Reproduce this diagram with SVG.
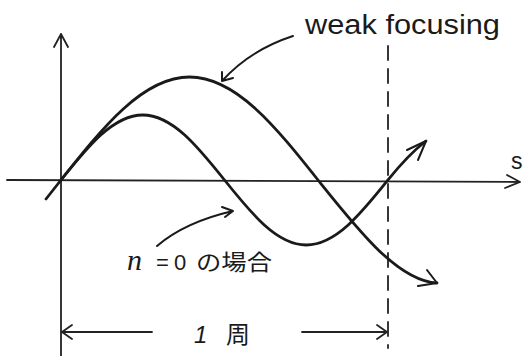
<svg xmlns="http://www.w3.org/2000/svg" width="523" height="356" viewBox="0 0 523 356">
<style>
.ax{fill:none;stroke:#222;stroke-width:1.8;stroke-linecap:round;stroke-linejoin:round}
.cv{fill:none;stroke:#1a1a1a;stroke-width:2.8;stroke-linecap:round;stroke-linejoin:round}
.ar{fill:none;stroke:#1a1a1a;stroke-width:2;stroke-linecap:round;stroke-linejoin:round}
.t{font-family:"Liberation Sans","Noto Sans CJK JP",sans-serif;fill:#1a1a1a}
</style>
<rect width="523" height="356" fill="#fff"/>
<g id="axes">
  <path class="ax" d="M7,180 L520,182 M507,175 L520,182 L505,188"/>
  <path class="ax" d="M61,34 L61,356 M54,47 L61,34 L68,47" stroke-width="1.4"/>
  <path class="ax" d="M388,46 L388,348" stroke-dasharray="14 9"/>
  <text class="t" x="511" y="169" font-size="23">s</text>
</g>
<g id="curve-weak">
  <path class="cv" d="M46,199 L61,180 C102.91,127.23 142.99,77 189.5,77 C236.01,77 276.09,127.23 318,180 C358,230 398,281 437,283"/>
  <path class="ar" d="M427,270 L437,283 L418,286"/>
</g>
<g id="curve-n0">
  <path class="cv" d="M61,180 C87.66,146.70 113.16,115 142.75,115 C172.34,115 197.84,146.70 224.5,180 C251.16,213.30 276.66,245 306.25,245 C335.84,245 361.34,213.30 388,180 C400.7,164.1 413,151 426,141"/>
  <path class="ar" d="M407,150 L426,141 L418,160"/>
</g>
<g id="label-weak">
  <text class="t" x="305" y="34" font-size="27" textLength="195" lengthAdjust="spacingAndGlyphs">weak focusing</text>
  <path class="ar" d="M293,36 Q250,50 222,81 M222,72 L222,81 L233,78"/>
</g>
<g id="label-n0">
  <text class="t" x="127" y="270" font-size="22"><tspan font-style="italic" font-size="30" font-family="Liberation Serif">n</tspan><tspan x="156">=</tspan><tspan x="174">0</tspan><tspan x="196" textLength="76" lengthAdjust="spacingAndGlyphs">の場合</tspan></text>
  <path class="ar" d="M157,246 Q185,222 233,211 M222,207 L233,211 L225,217"/>
</g>
<g id="dimension">
  <path class="ax" d="M62,332 L152,332 M72,325 L62,332 L72,339 M302,332 L387,332 M377,325 L387,332 L377,339"/>
  <text class="t" x="194" y="343" font-size="24"><tspan font-style="italic">1</tspan><tspan x="226">周</tspan></text>
</g>
</svg>
